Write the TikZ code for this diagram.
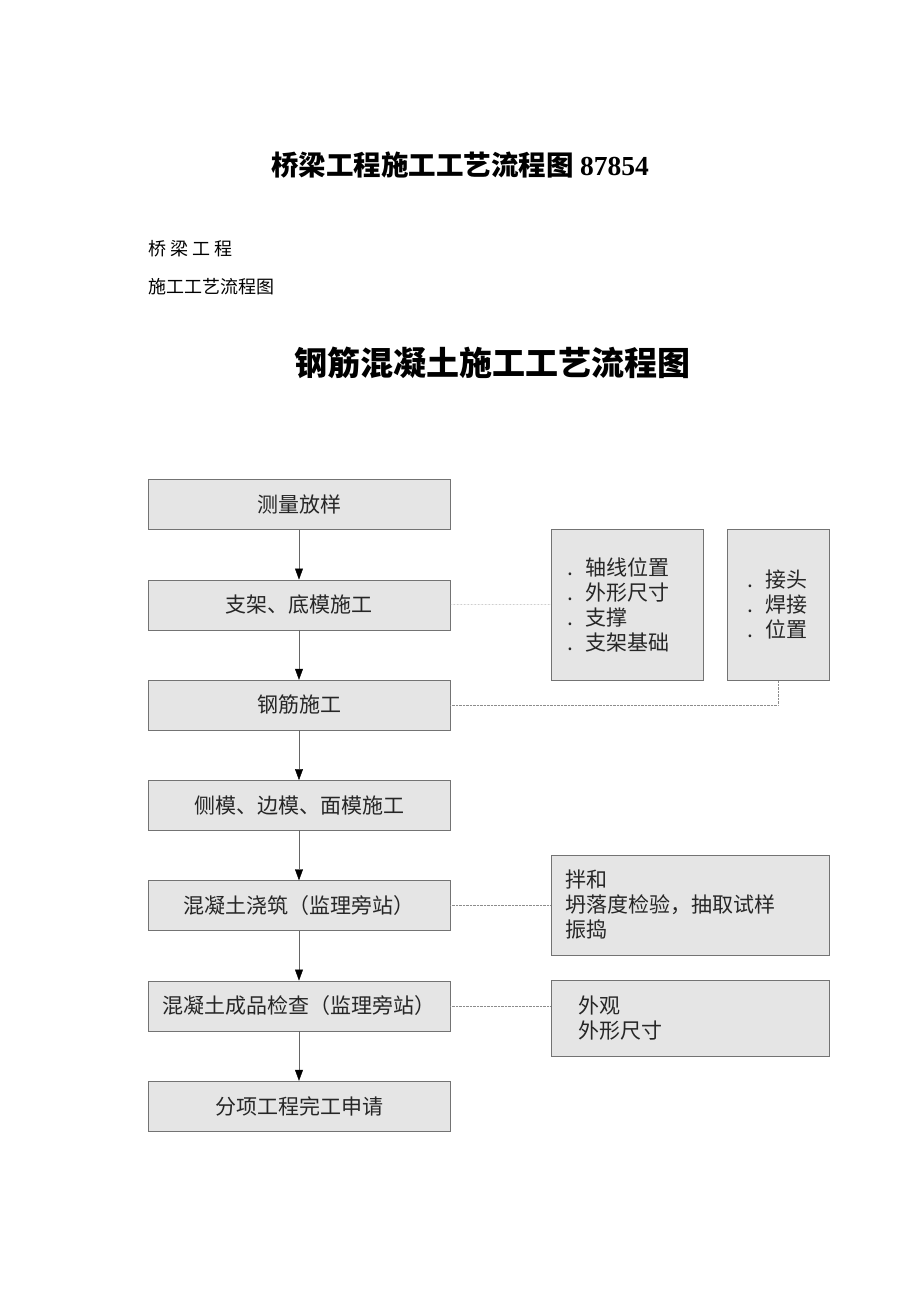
\documentclass[tikz,border=0pt]{standalone}
\usepackage{fontspec}
\setmainfont{Noto Sans CJK SC}
\newfontfamily\numfont{Liberation Serif}
\usetikzlibrary{arrows.meta,positioning}
\tikzset{
  stepbox/.style = { draw=black!55, fill=black!10, minimum width=302pt,
    minimum height=50pt, inner sep=0pt, text=black!85,
    font=\fontsize{21}{25}\selectfont },
  notebox/.style = { draw=black!55, fill=black!10, align=left, inner ysep=0pt,
    text=black!85, font=\fontsize{21}{25}\selectfont },
  flow/.style    = { draw=black!60, -{Triangle[length=11pt,width=8pt,black]} },
  hint/.style    = { draw=black!45, densely dotted }
}
\newcommand{\dotitem}[1]{\makebox[19pt][l]{.}#1}

\begin{document}
\begin{tikzpicture}[x=1pt,y=1pt,node distance=100.25pt,on grid]
  \useasboundingbox[fill=white] (0,0) rectangle (920,-1302);
  % titles
  \node (title) at (460,-165) {\fontsize{27.5}{27.5}\selectfont\bfseries 桥梁工程施工工艺流程图 {\numfont 87854}};
  \node[anchor=west,font=\fontsize{18}{18}\selectfont] (subA) at (144.5,-249) {桥\hspace{4pt}梁\hspace{4pt}工\hspace{4pt}程};
  \node[anchor=west,font=\fontsize{18}{18}\selectfont] (subB) at (144.5,-287) {施工工艺流程图};
  \node (chart) at (492,-363) {\fontsize{33}{33}\selectfont\bfseries 钢筋混凝土施工工艺流程图};
  % main chain
  \node[stepbox] (survey) at (299,-504.5) {测量放样};
  \node[stepbox, below=of survey] (support) {支架、底模施工};
  \node[stepbox, below=of support] (rebar) {钢筋施工};
  \node[stepbox, below=of rebar] (sideform) {侧模、边模、面模施工};
  \node[stepbox, below=of sideform] (pour) {混凝土浇筑（监理旁站）};
  \node[stepbox, below=of pour] (check) {混凝土成品检查（监理旁站）};
  \node[stepbox, below=of check] (apply) {分项工程完工申请};
  \foreach \a/\b in {survey/support,support/rebar,rebar/sideform,sideform/pour,pour/check,check/apply}
    \draw[flow] (\a) -- (\b);
  % side notes
  \node[notebox, text width=120pt, inner xsep=16pt, minimum height=151pt] (axisbox) at (627,-604.5)
    {\dotitem{轴线位置}\\\dotitem{外形尺寸}\\\dotitem{支撑}\\\dotitem{支架基础}};
  \node[notebox, text width=62pt, inner xsep=20pt, minimum height=151pt] (jointbox) at (778,-604.5)
    {\dotitem{接头}\\\dotitem{焊接}\\\dotitem{位置}};
  \node[notebox, text width=250pt, inner xsep=14pt, minimum height=100pt] (mixbox) at (690,-905)
    {拌和\\坍落度检验，抽取试样\\振捣};
  \node[notebox, text width=224pt, inner xsep=27pt, minimum height=76pt] (lookbox) at (690,-1018)
    {外观\\外形尺寸};
  \draw[hint] (support) -- (axisbox);
  \draw[hint] (rebar.east) -| (jointbox.south);
  \draw[hint] (pour) -- (mixbox.west |- pour);
  \draw[hint] (check) -- (lookbox.west |- check);
\end{tikzpicture}
\end{document}
